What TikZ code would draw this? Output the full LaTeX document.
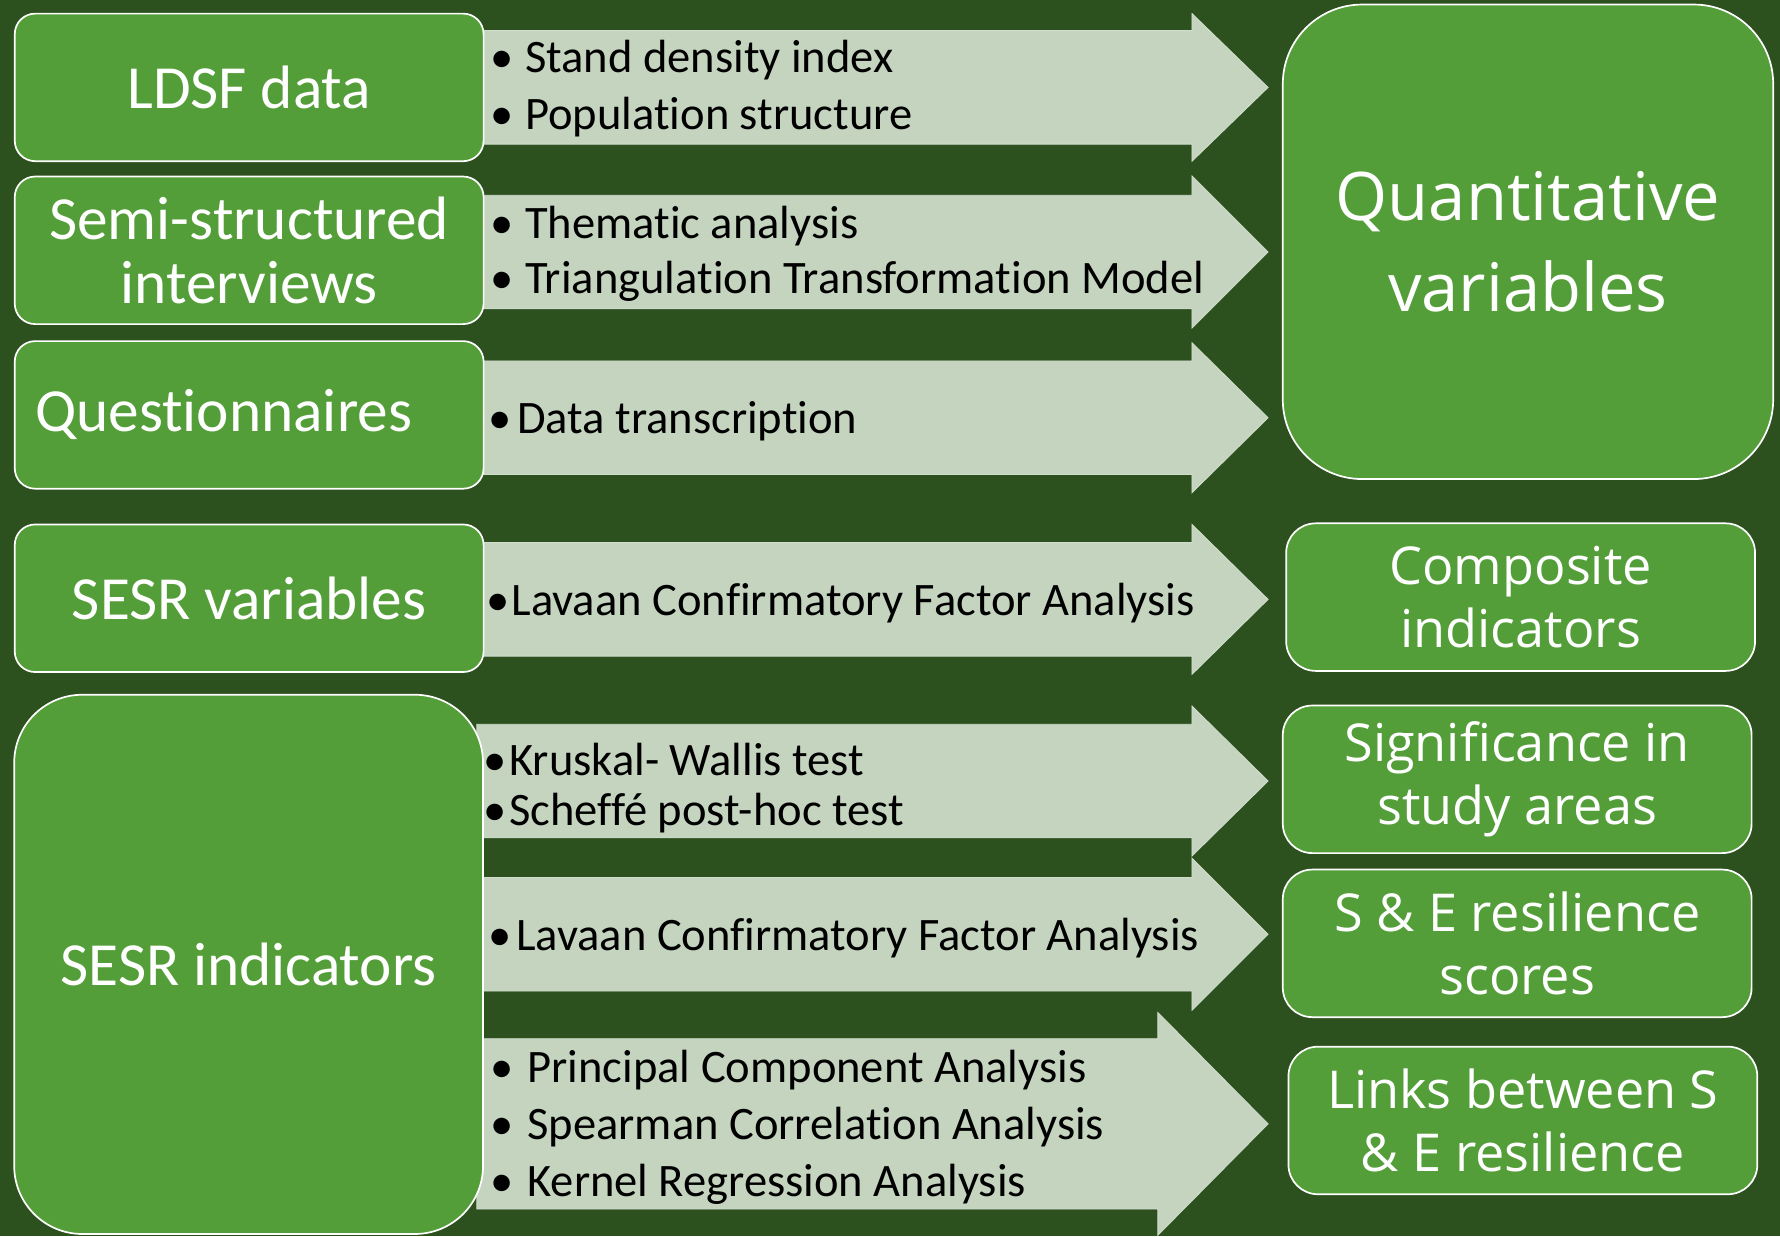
\documentclass[tikz,border=0pt]{standalone}
\usepackage{fontspec}
\setmainfont{Carlito}[Ligatures={NoCommon}]
\newfontfamily\widefont{Open Sans}

\definecolor{bgdark}{RGB}{44,80,30}
\definecolor{boxgreen}{RGB}{84,158,57}
\definecolor{arrowgrey}{RGB}{196,212,191}

\tikzset{
  srcbox/.style={draw=white, line width=1.5pt, fill=boxgreen, rounded corners=18pt,
    text=white, align=center, minimum width=413pt, minimum height=130pt,
    inner sep=0pt, font=\fontsize{54}{56}\selectfont},
  outbox/.style={srcbox, rounded corners=26pt, font=\widefont\fontsize{46}{56}\selectfont},
  item/.style={anchor=west, inner sep=0pt, font=\fontsize{41}{48}\selectfont},
  flow/.style={fill=arrowgrey, draw=arrowgrey!80!white, line width=0.8pt}
}

\begin{document}
\begin{tikzpicture}[x=1pt,y=-1pt]
  \fill[bgdark] (0,0) rectangle (1568,1089);
  \useasboundingbox (0,0) rectangle (1568,1089);

  % block arrows: centre / half body / half head / head start
  \foreach \cy/\bh/\hh/\hb in {77/50/65/1050, 222/50/67/1050, 368/50/66/1050,
      528/50/66/1050, 688/50/66/1050, 823/50/67/1050, 990/75/98/1020}
    \filldraw[flow] (420,{\cy-\bh}) -- (\hb,{\cy-\bh}) -- (\hb,{\cy-\hh}) -- (1117,\cy)
      -- (\hb,{\cy+\hh}) -- (\hb,{\cy+\bh}) -- (420,{\cy+\bh}) -- cycle;

  % inputs
  \node[srcbox] (ldsf) at (219.5,77) {LDSF data};
  \node[srcbox] (interviews) at (219.5,220.5) {Semi-structured\\interviews};
  \node[srcbox] (quest) at (219.5,365.5) {Questionnaires\hspace{45pt}};
  \node[srcbox] (sesrvar) at (219.5,527) {SESR variables};
  \node[srcbox, minimum height=475pt, rounded corners=60pt] (sesrind) at (219,849.5) {SESR indicators};

  % outputs
  \node[outbox, minimum width=432pt, minimum height=418pt, rounded corners=70pt,
    font=\widefont\fontsize{59}{80}\selectfont] (quant) at (1346,213) {Quantitative\\variables};
  \node[outbox] (composite) at (1339.5,526) {Composite\\indicators};
  \node[outbox] (signif) at (1336.5,686.5) {Significance in\\study areas};
  \node[outbox] (scores) at (1336.5,831) {S \& E resilience\\scores};
  \node[outbox] (links) at (1341.5,987) {Links between S\\\& E resilience};

  % methods on the arrows
  \node[item] (sdi) at (432,53) {\textbullet\hspace{10pt}Stand density index};
  \node[item] (pops) at (432,103) {\textbullet\hspace{10pt}Population structure};
  \node[item] (them) at (432,199) {\textbullet\hspace{10pt}Thematic analysis};
  \node[item] (ttm) at (432,248) {\textbullet\hspace{10pt}Triangulation Transformation Model};
  \node[item] (trans) at (430,371) {\textbullet\hspace{5pt}Data transcription};
  \node[item] (cfa) at (428,531) {\textbullet\hspace{2pt}Lavaan Confirmatory Factor Analysis};
  \node[item] (kw) at (426,669) {\textbullet\hspace{2pt}Kruskal- Wallis test};
  \node[item] (sch) at (426,716) {\textbullet\hspace{2pt}Scheffé post-hoc test};
  \node[item] (cfb) at (430,826) {\textbullet\hspace{4pt}Lavaan Confirmatory Factor Analysis};
  \node[item] (pca) at (432,943) {\textbullet\hspace{12pt}Principal Component Analysis};
  \node[item] (spear) at (432,993) {\textbullet\hspace{12pt}Spearman Correlation Analysis};
  \node[item] (kern) at (432,1043) {\textbullet\hspace{12pt}Kernel Regression Analysis};
\end{tikzpicture}
\end{document}
